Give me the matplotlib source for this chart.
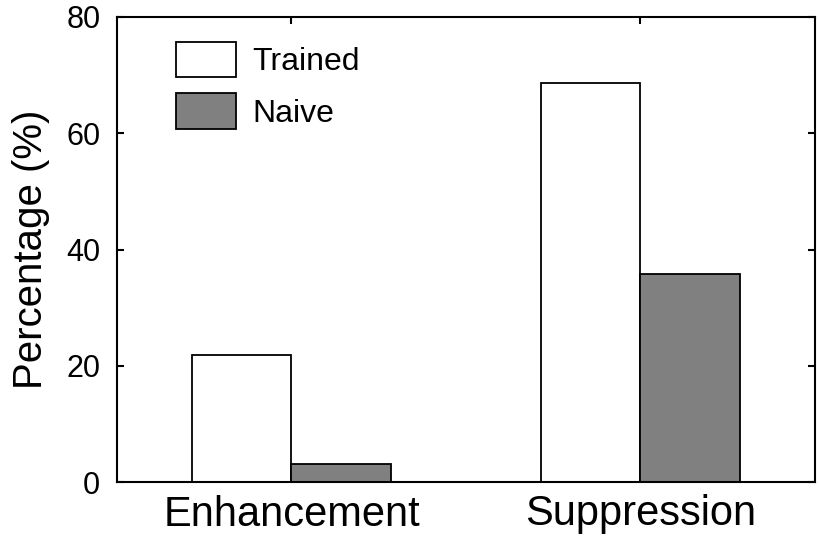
import matplotlib
matplotlib.use("Agg")
import matplotlib.pyplot as plt
import numpy as np

categories = ["Enhancement", "Suppression"]
series_names = ["Trained", "Naive"]
trained = [21.9, 68.7]
naive = [3.1, 35.8]
yticks = [0, 20, 40, 60, 80]

plt.rcParams['font.family'] = ['Liberation Sans', 'DejaVu Sans']

fig = plt.figure(figsize=(8.2, 5.4), dpi=100)
ax = fig.add_axes([117/820, 1-482/540, (815-117)/820, (482-17)/540])

x = np.arange(1, len(categories)+1)
w = 0.2865
ax.bar(x - w/2, trained, w, color='white', edgecolor='black', linewidth=1.3, label=series_names[0], zorder=2)
ax.bar(x + w/2, naive, w, color='#808080', edgecolor='black', linewidth=1.3, label=series_names[1], zorder=2)

ax.set_xlim(0.5, 2.5)
ax.set_ylim(0, 80)
ax.set_yticks(yticks)
ax.set_xticks(x)
ax.set_xticklabels(categories, fontsize=30)
ax.tick_params(axis='y', labelsize=22, pad=12)
ax.tick_params(axis='x', pad=9)
ax.tick_params(direction='in', length=5, width=1.5, top=True, right=True)
for s in ax.spines.values():
    s.set_linewidth(1.5)
ax.set_ylabel("Percentage (%)", fontsize=29, labelpad=12)

fs = 23
px = fs * 100 / 72
leg = ax.legend(loc='upper left', bbox_to_anchor=((176-117)/698, 1-(42-17)/465),
                frameon=False, fontsize=fs, borderpad=0, borderaxespad=0,
                handlelength=60/px, handleheight=1.12*38/px, handletextpad=16/px,
                labelspacing=16/px)
for h in leg.legend_handles:
    h.set_linewidth(1.3)

fig.savefig("out.png", dpi=100)
